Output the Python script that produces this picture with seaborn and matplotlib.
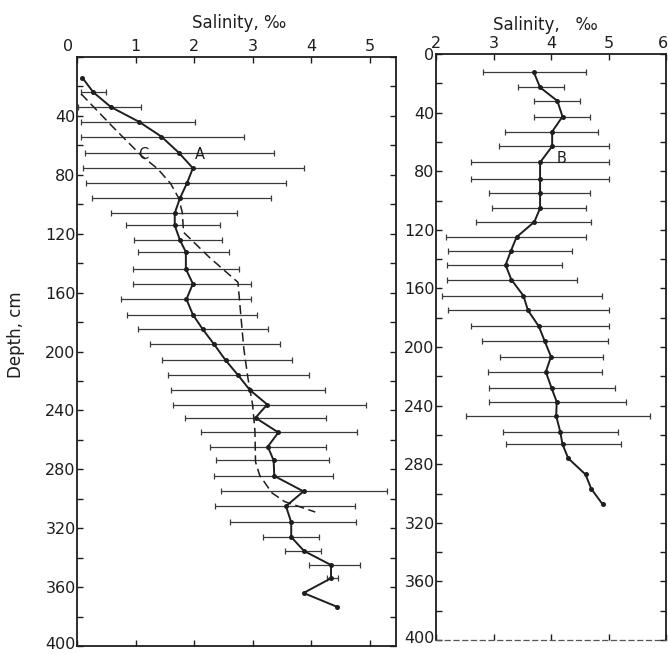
import numpy as np
import pandas as pd
import matplotlib
matplotlib.use("Agg")
import matplotlib.pyplot as plt
import matplotlib.transforms as mtransforms
import seaborn as sns
from matplotlib.ticker import MultipleLocator, FixedLocator

# ---------------- data ----------------
# Left panel, profile A (solid line with dots)
A_depth = [14, 24, 34, 44, 54, 65, 75.5, 85.6, 95.8, 106, 114.4, 124.5, 132.4, 144, 154,
           164.5, 175, 185, 195, 206, 216, 226, 236, 245, 255, 264.6, 274, 284.5, 295,
           305, 316, 326, 335.5, 345, 354, 364, 373.5]
A_sal = [0.09, 0.28, 0.58, 1.06, 1.44, 1.74, 1.98, 1.88, 1.76, 1.67, 1.67, 1.76, 1.86, 1.86,
         1.98, 1.87, 1.98, 2.15, 2.34, 2.54, 2.75, 2.95, 3.25, 3.05, 3.44, 3.26, 3.36, 3.37,
         3.87, 3.57, 3.66, 3.66, 3.88, 4.34, 4.34, 3.87, 4.45]
# ranges (horizontal bars) for profile A
A_err_depth = [24, 34, 44, 54, 65, 75.5, 85.6, 95.8, 106, 114.4, 124.5, 132.4, 144, 154, 164.5,
               175, 185, 195, 206, 216, 226, 236, 245, 255, 264.6, 274, 284.5, 295, 305, 316,
               326, 335.5, 345, 354]
A_err_lo = [0.06, 0.02, 0.06, 0.06, 0.13, 0.10, 0.15, 0.25, 0.58, 0.83, 0.97, 1.04, 0.95, 0.95,
            0.75, 0.86, 1.05, 1.25, 1.45, 1.55, 1.60, 1.64, 1.85, 2.11, 2.28, 2.38, 2.34, 2.46,
            2.36, 2.61, 3.18, 3.56, 3.97, 4.27]
A_err_hi = [0.49, 1.10, 2.02, 2.85, 3.37, 3.88, 3.57, 3.31, 2.74, 2.45, 2.48, 2.60, 2.77, 2.98,
            2.97, 3.07, 3.26, 3.47, 3.68, 3.97, 4.24, 4.93, 4.25, 4.78, 4.25, 4.31, 4.38, 5.29,
            4.75, 4.77, 4.14, 4.17, 4.84, 4.46]

# Left panel, profile C (dashed line)
C_depth = [25, 47, 67, 76, 86, 96, 106, 119, 136, 153, 176, 198, 218, 236, 254, 275, 284, 296,
           302, 309]
C_sal = [0.07, 0.60, 1.10, 1.38, 1.60, 1.74, 1.80, 1.82, 2.26, 2.75, 2.80, 2.85, 2.92, 3.00,
         3.04, 3.05, 3.12, 3.33, 3.55, 4.07]

# Right panel, profile B
B_depth = [12.3, 22.8, 32, 42.7, 53, 63, 74, 85, 94.7, 105.3, 114.6, 125, 134.7, 144, 154, 165,
           175, 186, 196, 206.6, 217, 228, 237.5, 247, 257.7, 266.4, 276, 287, 296.8, 307.5]
B_sal = [3.70, 3.81, 4.11, 4.20, 4.02, 4.02, 3.81, 3.81, 3.81, 3.81, 3.71, 3.40, 3.30, 3.21,
         3.31, 3.52, 3.60, 3.79, 3.89, 4.00, 3.91, 4.01, 4.10, 4.09, 4.16, 4.20, 4.30, 4.60,
         4.70, 4.90]
B_err_depth = B_depth[:26]
B_err_lo = [2.82, 3.43, 3.71, 3.71, 3.20, 3.10, 2.61, 2.61, 2.92, 2.98, 2.70, 2.18, 2.20, 2.19,
            2.19, 2.10, 2.20, 2.61, 2.80, 3.12, 2.91, 2.92, 2.92, 2.52, 3.17, 3.21]
B_err_hi = [4.60, 4.23, 4.50, 4.67, 4.81, 5.00, 5.00, 5.00, 4.67, 4.60, 4.70, 4.60, 4.37, 4.19,
            4.45, 4.89, 5.00, 5.00, 4.99, 4.90, 4.88, 5.11, 5.30, 5.72, 5.16, 5.21]

left_xticks = [0, 1, 2, 3, 4, 5]
right_xticks = [2, 3, 4, 5, 6]
left_yticks = [40, 80, 120, 160, 200, 240, 280, 320, 360, 400]
right_yticks = [0, 40, 80, 120, 160, 200, 240, 280, 320, 360, 400]

# ---------------- style ----------------
sns.set_style("ticks")
plt.rcParams["font.family"] = ["DejaVu Sans"]
INK = "#1e1e1e"
plt.rcParams["text.color"] = INK
plt.rcParams["axes.edgecolor"] = INK
plt.rcParams["xtick.color"] = INK
plt.rcParams["ytick.color"] = INK

W, H = 668, 654
fig = plt.figure(figsize=(W / 100, H / 100), dpi=100, facecolor="white")

axL = fig.add_axes([77 / W, 1 - 646 / H, 319 / W, 589 / H])
axR = fig.add_axes([436 / W, 1 - 640 / H, 230 / W, 586 / H])


def errbars(ax, d, lo, hi):
    lo = np.asarray(lo)
    hi = np.asarray(hi)
    mid = (lo + hi) / 2
    ax.errorbar(mid, d, xerr=(hi - lo) / 2, fmt="none", ecolor="#3a3a3a",
                elinewidth=0.9, capsize=2.2, capthick=0.9, zorder=2)


# Left panel
dfA = pd.DataFrame({"sal": A_sal, "depth": A_depth})
dfC = pd.DataFrame({"sal": C_sal, "depth": C_depth})
errbars(axL, A_err_depth, A_err_lo, A_err_hi)
sns.lineplot(data=dfA, x="sal", y="depth", sort=False, estimator=None, ax=axL,
             color=INK, lw=1.4, marker="o", markersize=3.6, markeredgewidth=0, zorder=3)
sns.lineplot(data=dfC, x="sal", y="depth", sort=False, estimator=None, ax=axL,
             color=INK, lw=1.1, linestyle=(0, (6, 3)), zorder=3)
axL.text(2.1, 71, "A", fontsize=10.5, ha="center", va="bottom")
axL.text(1.13, 71, "C", fontsize=10.5, ha="center", va="bottom")

# Right panel
dfB = pd.DataFrame({"sal": B_sal, "depth": B_depth})
errbars(axR, B_err_depth, B_err_lo, B_err_hi)
sns.lineplot(data=dfB, x="sal", y="depth", sort=False, estimator=None, ax=axR,
             color=INK, lw=1.4, marker="o", markersize=3.6, markeredgewidth=0, zorder=3)
axR.text(4.1, 71, "B", fontsize=10.5, ha="left", va="center")

for ax, xl, xt, yt in [(axL, (0, 5.45), left_xticks, left_yticks),
                       (axR, (2, 6), right_xticks, right_yticks)]:
    ax.set_xlim(*xl)
    ax.set_ylim(400, 0)
    ax.set_xlabel("")
    ax.set_ylabel("")
    ax.xaxis.set_label_position("top")
    ax.xaxis.tick_top()
    ax.set_xticks(xt)
    ax.set_xticklabels([str(v) for v in xt])
    ax.yaxis.set_major_locator(FixedLocator(yt))
    ax.set_yticklabels([str(v) for v in yt])
    ax.yaxis.set_minor_locator(MultipleLocator(20))
    ax.tick_params(axis="x", which="both", direction="in", length=4, width=1,
                   top=True, bottom=True, labeltop=True, labelbottom=False,
                   labelsize=11.5, pad=2)
    ax.tick_params(axis="y", which="both", direction="in", length=4, width=1,
                   left=True, right=True, labelleft=True, labelsize=11.5, pad=1)
    for s in ax.spines.values():
        s.set_visible(True)
        s.set_linewidth(1.3)
        s.set_color(INK)
    ax.set_facecolor("white")

axR.spines["bottom"].set_linestyle((0, (4, 3)))
axR.spines["bottom"].set_linewidth(0.9)
axR.spines["bottom"].set_color("#555555")

# corner "0" of the left panel sits left of the corner
lbl0 = axL.get_xticklabels()[0]
lbl0.set_ha("right")
lbl0.set_transform(lbl0.get_transform() + mtransforms.ScaledTranslation(-4 / 100, 0, fig.dpi_scale_trans))

# last x label of right panel kept inside the figure
lbl6 = axR.get_xticklabels()[-1]
lbl6.set_ha("right")
lbl6.set_transform(lbl6.get_transform() + mtransforms.ScaledTranslation(2 / 100, 0, fig.dpi_scale_trans))

# bottom "400" labels nudged up to stay inside
for ax in (axL, axR):
    lb = ax.get_yticklabels()[-1]
    lb.set_transform(lb.get_transform() + mtransforms.ScaledTranslation(0, 3 / 100, fig.dpi_scale_trans))

fig.text(239 / W, 1 - 23 / H, "Salinity, \u2030", ha="center", va="center", fontsize=12)
fig.text(545 / W, 1 - 25 / H, "Salinity,   \u2030", ha="center", va="center", fontsize=12)
fig.text(16 / W, 1 - 335 / H, "Depth, cm", ha="center", va="center", rotation=90, fontsize=12)

fig.savefig("out.png", dpi=100, facecolor="white")
